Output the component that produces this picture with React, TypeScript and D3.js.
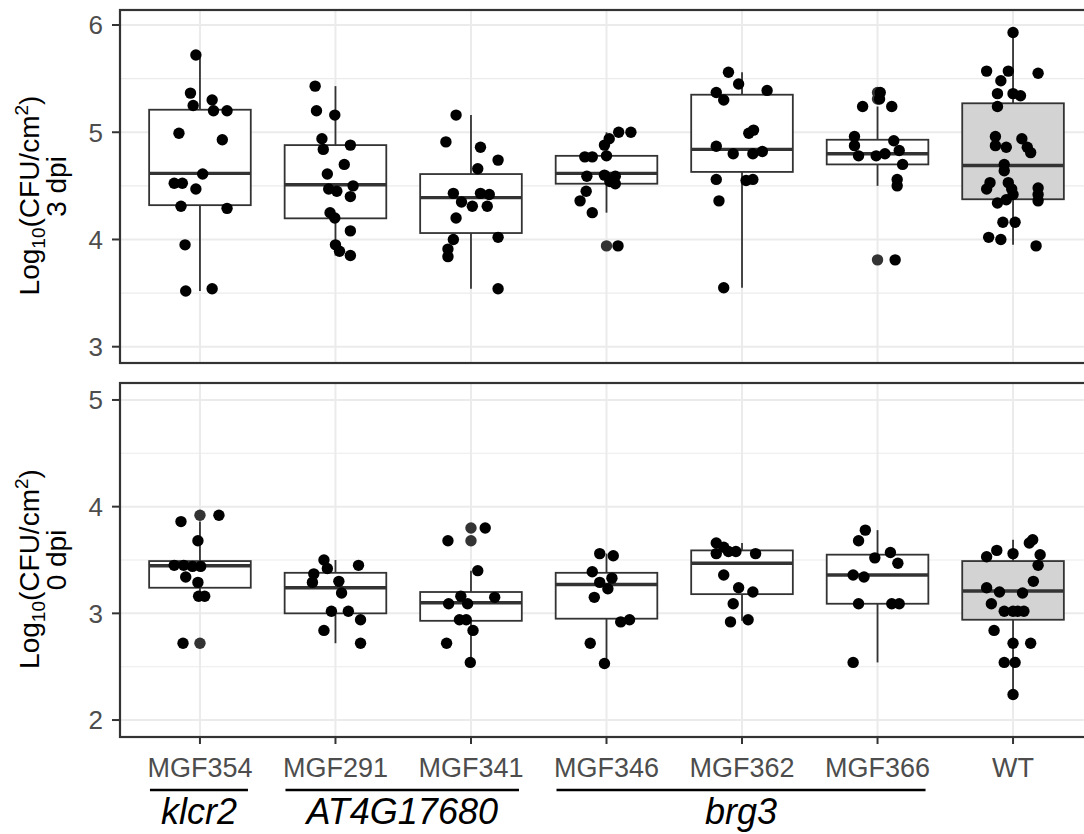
import React from "react";
import * as d3 from "d3";

// ---------- data ----------
const groups = ["MGF354", "MGF291", "MGF341", "MGF346", "MGF362", "MGF366", "WT"];
const boxFills = ["#FFFFFF", "#FFFFFF", "#FFFFFF", "#FFFFFF", "#FFFFFF", "#FFFFFF", "#D3D3D3"];

const geneLabels = ["klcr2", "AT4G17680", "brg3"];
const geneFirst = ["MGF354", "MGF291", "MGF346"];
const geneLast = ["MGF354", "MGF341", "MGF366"];

const panelTitles = ["3 dpi", "0 dpi"];
const topTicks = [3, 4, 5, 6];
const bottomTicks = [2, 3, 4, 5];

// box stats: [whiskerLow, q1, median, q3, whiskerHigh]
const boxes3dpi: number[][] = [
  [3.52, 4.32, 4.616, 5.21, 5.72],
  [3.85, 4.197, 4.51, 4.88, 5.43],
  [3.54, 4.06, 4.39, 4.61, 5.16],
  [4.25, 4.52, 4.616, 4.78, 5.0],
  [3.55, 4.63, 4.84, 5.35, 5.56],
  [4.5, 4.7, 4.8, 4.93, 5.24],
  [3.95, 4.375, 4.69, 5.27, 5.93],
];
const boxes0dpi: number[][] = [
  [3.16, 3.24, 3.446, 3.49, 3.86],
  [2.72, 3.0, 3.24, 3.38, 3.5],
  [2.54, 2.93, 3.1, 3.2, 3.4],
  [2.53, 2.95, 3.27, 3.38, 3.56],
  [2.93, 3.18, 3.47, 3.59, 3.66],
  [2.54, 3.09, 3.36, 3.55, 3.78],
  [2.24, 2.94, 3.21, 3.49, 3.69],
];

// jittered observations: [jitter (category units), log10 CFU]
const obs3dpi: [number, number][][] = [
  [[-0.03, 5.72], [-0.07, 5.365], [-0.05, 5.25], [0.09, 5.3], [0.1, 5.2], [0.2, 5.2], [-0.155, 4.99], [0.165, 4.93], [0.02, 4.61], [-0.19, 4.525], [-0.13, 4.525], [-0.03, 4.47], [-0.14, 4.31], [0.2, 4.29], [-0.11, 3.95], [-0.105, 3.52], [0.09, 3.54]],
  [[-0.15, 5.43], [-0.14, 5.2], [-0.005, 5.16], [-0.1, 4.94], [-0.09, 4.84], [0.11, 4.88], [0.065, 4.7], [-0.06, 4.61], [-0.05, 4.47], [0.01, 4.45], [0.13, 4.5], [0.11, 4.4], [-0.04, 4.25], [-0.005, 4.2], [0.11, 4.08], [0.0, 3.95], [0.03, 3.89], [0.11, 3.85]],
  [[-0.11, 5.16], [-0.185, 4.91], [0.07, 4.86], [0.2, 4.74], [0.05, 4.66], [-0.13, 4.43], [-0.07, 4.35], [0.01, 4.31], [0.07, 4.43], [0.135, 4.42], [0.12, 4.31], [-0.11, 4.2], [-0.13, 4.0], [0.2, 4.02], [-0.17, 3.91], [-0.17, 3.84], [0.2, 3.54]],
  [[0.09, 5.0], [0.18, 5.0], [0.02, 4.94], [-0.015, 4.88], [-0.16, 4.77], [-0.105, 4.77], [0.0, 4.78], [-0.145, 4.59], [-0.015, 4.6], [0.065, 4.59], [0.025, 4.54], [0.065, 4.52], [-0.15, 4.45], [-0.195, 4.36], [-0.105, 4.25], [0.085, 3.94]],
  [[-0.1, 5.56], [-0.025, 5.45], [-0.19, 5.37], [-0.135, 5.3], [0.185, 5.39], [0.085, 5.02], [0.05, 4.99], [-0.19, 4.87], [-0.065, 4.8], [0.08, 4.8], [0.15, 4.82], [-0.19, 4.56], [0.03, 4.55], [0.08, 4.56], [-0.17, 4.36], [-0.135, 3.55]],
  [[0.02, 5.37], [0.015, 5.31], [-0.11, 5.24], [0.105, 5.24], [-0.17, 4.96], [-0.17, 4.875], [-0.14, 4.78], [0.12, 4.92], [0.16, 4.83], [-0.01, 4.78], [0.055, 4.8], [0.185, 4.7], [0.145, 4.56], [0.145, 4.5], [0.13, 3.81]],
  [[0.0, 5.93], [-0.195, 5.57], [-0.035, 5.57], [0.185, 5.55], [-0.09, 5.48], [-0.115, 5.36], [0.0, 5.36], [0.055, 5.34], [-0.115, 5.24], [-0.13, 4.96], [-0.13, 4.875], [-0.05, 4.86], [0.065, 4.94], [0.105, 4.86], [0.13, 4.81], [-0.065, 4.7], [-0.065, 4.64], [-0.17, 4.53], [-0.195, 4.47], [-0.035, 4.53], [-0.01, 4.47], [0.0, 4.42], [-0.05, 4.37], [-0.115, 4.34], [0.185, 4.48], [0.185, 4.42], [0.185, 4.36], [-0.075, 4.16], [0.015, 4.16], [-0.18, 4.02], [-0.09, 4.0], [0.17, 3.94]],
];
const obs0dpi: [number, number][][] = [
  [[-0.14, 3.86], [0.14, 3.92], [-0.015, 3.68], [-0.19, 3.45], [-0.12, 3.45], [-0.055, 3.44], [0.005, 3.44], [-0.105, 3.34], [-0.015, 3.29], [-0.01, 3.16], [0.035, 3.16], [-0.125, 2.72]],
  [[-0.085, 3.5], [-0.06, 3.42], [0.17, 3.45], [-0.16, 3.37], [-0.17, 3.29], [0.025, 3.3], [0.045, 3.19], [-0.03, 3.02], [0.095, 3.02], [0.185, 2.94], [-0.085, 2.84], [0.185, 2.72]],
  [[0.105, 3.8], [-0.17, 3.68], [0.05, 3.4], [-0.075, 3.16], [-0.025, 3.09], [-0.165, 3.09], [0.175, 3.15], [-0.085, 2.94], [-0.035, 2.94], [0.015, 2.84], [-0.18, 2.72], [-0.005, 2.54]],
  [[-0.05, 3.56], [0.05, 3.54], [-0.105, 3.39], [0.04, 3.33], [-0.05, 3.29], [0.01, 3.23], [-0.09, 3.15], [0.105, 2.92], [0.17, 2.94], [-0.12, 2.72], [-0.015, 2.53]],
  [[-0.19, 3.66], [-0.135, 3.62], [-0.19, 3.56], [-0.1, 3.58], [-0.045, 3.58], [0.1, 3.56], [-0.135, 3.36], [-0.025, 3.24], [0.08, 3.2], [-0.065, 3.09], [-0.085, 2.92], [0.045, 2.94]],
  [[-0.09, 3.78], [-0.14, 3.68], [-0.02, 3.52], [0.095, 3.57], [0.15, 3.47], [-0.18, 3.36], [-0.1, 3.34], [-0.14, 3.09], [0.105, 3.09], [0.16, 3.09], [-0.18, 2.54]],
  [[0.145, 3.69], [0.12, 3.66], [-0.12, 3.59], [-0.195, 3.53], [0.0, 3.56], [0.2, 3.55], [0.185, 3.45], [0.15, 3.3], [-0.195, 3.24], [-0.1, 3.2], [0.07, 3.19], [-0.16, 3.09], [-0.065, 3.02], [0.0, 3.02], [0.035, 3.02], [0.08, 3.02], [-0.14, 2.84], [0.0, 2.72], [0.13, 2.72], [-0.065, 2.54], [0.015, 2.54], [0.0, 2.24]],
];

// ---------- layout ----------
const W = 1084;
const H = 834;
const panelLeft = 120;
const panelRight = 1093;
const FONT = "'Liberation Sans', Arial, Helvetica, sans-serif";
const PT_R = 5.7;

const x = d3.scalePoint<string>().domain(groups).range([panelLeft, panelRight]).padding(0.59);
const step = x.step();
const boxW = step * 0.75;

const panels = [
  { title: panelTitles[0], top: 10, bottom: 363, domain: [2.848, 6.14], ticks: topTicks, boxes: boxes3dpi, obs: obs3dpi },
  { title: panelTitles[1], top: 383, bottom: 737, domain: [1.841, 5.159], ticks: bottomTicks, boxes: boxes0dpi, obs: obs0dpi },
];

function Panel({ p, showX }: { p: (typeof panels)[number]; showX: boolean }) {
  const y = d3.scaleLinear().domain(p.domain).range([p.bottom, p.top]);
  const [d0, d1] = p.domain;
  const minor: number[] = [];
  for (let v = Math.ceil(d0 * 2) / 2; v <= d1; v += 0.5) if (v % 1 !== 0) minor.push(v);
  const mid = (p.top + p.bottom) / 2;
  return (
    <g>
      <rect x={panelLeft} y={p.top} width={panelRight - panelLeft} height={p.bottom - p.top} fill="#FFFFFF" />
      {minor.map((v) => (
        <line key={"mn" + v} x1={panelLeft} x2={panelRight} y1={y(v)} y2={y(v)} stroke="#EBEBEB" strokeWidth={1.1} />
      ))}
      {p.ticks.map((v) => (
        <line key={"mj" + v} x1={panelLeft} x2={panelRight} y1={y(v)} y2={y(v)} stroke="#EBEBEB" strokeWidth={2} />
      ))}
      {groups.map((g) => (
        <line key={"vx" + g} x1={x(g)} x2={x(g)} y1={p.top} y2={p.bottom} stroke="#EBEBEB" strokeWidth={2} />
      ))}
      {groups.map((g, i) => {
        const [lo, q1, med, q3, hi] = p.boxes[i];
        const cx = x(g)!;
        const outl = p.obs[i].filter(([, v]) => v > hi + 0.02 || v < lo - 0.02);
        return (
          <g key={"bx" + g}>
            <line x1={cx} x2={cx} y1={y(q3)} y2={y(hi)} stroke="#333333" strokeWidth={1.8} />
            <line x1={cx} x2={cx} y1={y(q1)} y2={y(lo)} stroke="#333333" strokeWidth={1.8} />
            <rect x={cx - boxW / 2} y={y(q3)} width={boxW} height={y(q1) - y(q3)} fill={boxFills[i]} stroke="#333333" strokeWidth={1.8} />
            <line x1={cx - boxW / 2} x2={cx + boxW / 2} y1={y(med)} y2={y(med)} stroke="#333333" strokeWidth={3.4} />
            {outl.map(([, v], k) => (
              <circle key={"o" + k} cx={cx} cy={y(v)} r={PT_R} fill="#333333" />
            ))}
          </g>
        );
      })}
      {groups.map((g, i) =>
        p.obs[i].map(([j, v], k) => (
          <circle key={"pt" + g + k} cx={x(g)! + j * step} cy={y(v)} r={PT_R} fill="#000000" />
        ))
      )}
      <rect x={panelLeft} y={p.top} width={panelRight - panelLeft} height={p.bottom - p.top} fill="none" stroke="#333333" strokeWidth={2.2} />
      {p.ticks.map((v) => (
        <g key={"yt" + v}>
          <line x1={panelLeft - 8} x2={panelLeft} y1={y(v)} y2={y(v)} stroke="#333333" strokeWidth={2} />
          <text x={panelLeft - 17} y={y(v)} dy="0.36em" textAnchor="end" fontSize={26} fill="#4D4D4D" fontFamily={FONT}>
            {v}
          </text>
        </g>
      ))}
      {showX &&
        groups.map((g) => (
          <g key={"xt" + g}>
            <line x1={x(g)} x2={x(g)} y1={p.bottom} y2={p.bottom + 7} stroke="#333333" strokeWidth={2} />
            <text x={x(g)} y={777} textAnchor="middle" fontSize={27} fill="#4D4D4D" fontFamily={FONT}>
              {g}
            </text>
          </g>
        ))}
      <g transform={`translate(39, ${mid + 9}) rotate(-90)`}>
        <text textAnchor="middle" fontSize={28} fill="#000000" fontFamily={FONT}>
          Log
          <tspan fontSize={19} dy={6}>10</tspan>
          <tspan dy={-6}>(CFU/cm</tspan>
          <tspan fontSize={19} dy={-11}>2</tspan>
          <tspan dy={11}>)</tspan>
        </text>
      </g>
      <g transform={`translate(66, ${mid}) rotate(-90)`}>
        <text textAnchor="middle" fontSize={28} fill="#000000" fontFamily={FONT}>
          {p.title}
        </text>
      </g>
    </g>
  );
}

export default function App() {
  return (
    <svg
      width={W}
      height={H}
      viewBox={`0 0 ${W} ${H}`}
      style={{ position: "absolute", left: 0, top: 0, background: "#FFFFFF" }}
    >
      <rect width={W} height={H} fill="#FFFFFF" />
      <Panel p={panels[0]} showX={false} />
      <Panel p={panels[1]} showX={true} />
      {geneLabels.map((lab, i) => {
        const x0 = x(geneFirst[i])! - 50;
        const x1 = x(geneLast[i])! + 48;
        return (
          <g key={"gene" + lab}>
            <line x1={x0} x2={x1} y1={790} y2={790} stroke="#000000" strokeWidth={2.6} />
            <text x={(x0 + x1) / 2} y={824} textAnchor="middle" fontSize={36} fontStyle="italic" fill="#000000" fontFamily={FONT}>
              {lab}
            </text>
          </g>
        );
      })}
    </svg>
  );
}
